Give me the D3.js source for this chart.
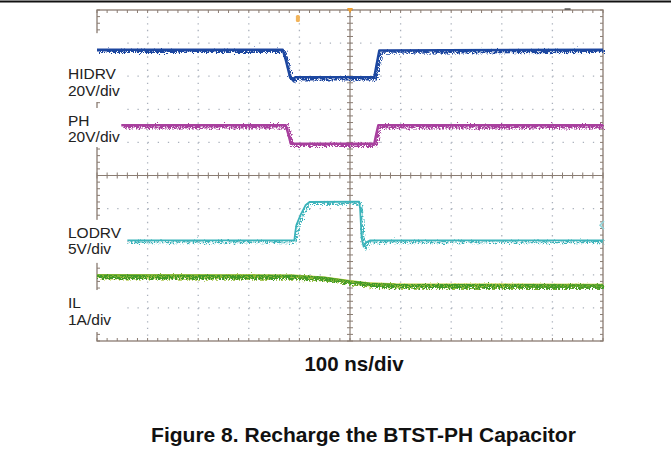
<!DOCTYPE html>
<html>
<head>
<meta charset="utf-8">
<script src="https://cdn.jsdelivr.net/npm/d3@7"></script>
<style>
  body { margin: 0; background: #fff; }
  svg { display: block; }
  .lbl { font-family: "Liberation Sans", Arial, sans-serif; font-size: 15.5px; fill: #222; }
  .cap { font-family: "Liberation Sans", Arial, sans-serif; font-weight: bold; fill: #111; }
</style>
</head>
<body>
<div id="scope"></div>
<script>
//time axis in ns (100 ns/div, 10 divisions), vertical axis in divisions
var timeTicks = [-500, -400, -300, -200, -100, 0, 100, 200, 300, 400, 500];
var divTicks = [-5, -4, -3, -2, -1, 0, 1, 2, 3, 4, 5];

//trace breakpoints: [time ns, divisions]
var hidrv = [[-500, 3.8], [-133, 3.8], [-127, 3.5], [-118, 2.95], [-114, 2.9], [-108, 2.97], [48, 2.97], [52, 3.3], [58, 3.78], [500, 3.8]];
var ph = [[-452, 1.52], [-127, 1.52], [-121, 1.2], [-117, 0.96], [48, 0.96], [52, 1.25], [56, 1.52], [500, 1.52]];
var lodrv = [[-440, -1.96], [-110, -1.96], [-108, -1.7], [-106, -1.5], [-98, -1.2], [-88, -0.9], [-80, -0.8], [18, -0.79], [20, -1.0], [23, -1.9], [27, -2.15], [32, -2.02], [40, -1.96], [500, -1.96]];
var il = [[-500, -3.03], [-110, -3.04], [-50, -3.1], [0, -3.21], [40, -3.28], [90, -3.31], [500, -3.32]];

var traceNames = ["HIDRV", "PH", "LODRV", "IL"];
var traceScales = ["20V/div", "20V/div", "5V/div", "1A/div"];
var traceColors = ["#1f47a0", "#a8409e", "#3ab3ba", "#3f9a2a"];

var svgWidth = 671, svgHeight = 460;
var grid = {left: 97, right: 603, top: 10, bottom: 341};

var xScale = d3.scaleLinear().domain([-500, 500]).range([grid.left, grid.right]);
var yScale = d3.scaleLinear().domain([-5, 5]).range([grid.bottom, grid.top]);

var svg = d3.select("#scope").append("svg")
    .attr("width", svgWidth)
    .attr("height", svgHeight);

//noise filter so the traces look like a real capture
var defs = svg.append("defs");
var filt = defs.append("filter").attr("id", "noisy")
    .attr("filterUnits", "userSpaceOnUse")
    .attr("x", 0).attr("y", 0).attr("width", svgWidth).attr("height", svgHeight);
filt.append("feTurbulence").attr("type", "turbulence")
    .attr("baseFrequency", "1.3 0.9").attr("numOctaves", 2).attr("seed", 7).attr("result", "turb");
filt.append("feDisplacementMap").attr("in", "SourceGraphic").attr("in2", "turb")
    .attr("scale", 7).attr("xChannelSelector", "R").attr("yChannelSelector", "G").attr("result", "disp");
var merge = filt.append("feMerge");
merge.append("feMergeNode").attr("in", "SourceGraphic");
merge.append("feMergeNode").attr("in", "disp");

//top rule of the page
svg.append("rect").attr("x", 0).attr("y", 0.5).attr("width", svgWidth).attr("height", 2).attr("fill", "#111");

//dotted graticule
var gridG = svg.append("g");
gridG.selectAll("line.v").data(timeTicks.slice(1, -1).filter(d => d !== 0))
    .enter().append("line")
    .attr("x1", d => xScale(d)).attr("x2", d => xScale(d))
    .attr("y1", grid.top).attr("y2", grid.bottom)
    .attr("stroke", "#aab1bc").attr("stroke-width", 1.3)
    .attr("stroke-dasharray", "1.3,5.32");
gridG.selectAll("line.h").data(divTicks.slice(1, -1).filter(d => d !== 0))
    .enter().append("line")
    .attr("x1", grid.left).attr("x2", grid.right)
    .attr("y1", d => yScale(d)).attr("y2", d => yScale(d))
    .attr("stroke", "#aab1bc").attr("stroke-width", 1.3)
    .attr("stroke-dasharray", "1.3,8.82");

//frame and centre axes
var frameCol = "#8a7c72";
svg.append("rect")
    .attr("x", grid.left).attr("y", grid.top)
    .attr("width", grid.right - grid.left).attr("height", grid.bottom - grid.top)
    .attr("fill", "none").attr("stroke", frameCol).attr("stroke-width", 1.3);
svg.append("line").attr("x1", grid.left).attr("x2", grid.right)
    .attr("y1", yScale(0)).attr("y2", yScale(0)).attr("stroke", frameCol).attr("stroke-width", 1.2);
svg.append("line").attr("x1", xScale(0)).attr("x2", xScale(0))
    .attr("y1", grid.top).attr("y2", grid.bottom).attr("stroke", frameCol).attr("stroke-width", 1.2);

//minor ticks, 5 per division
var minorT = d3.range(-500, 501, 20);
var minorV = d3.range(-5, 5.001, 0.2);
var tickG = svg.append("g").attr("stroke", frameCol).attr("stroke-width", 1);
tickG.selectAll("line.ct").data(minorT).enter().append("line")
    .attr("x1", d => xScale(d)).attr("x2", d => xScale(d))
    .attr("y1", yScale(0) - 3).attr("y2", yScale(0) + 3);
tickG.selectAll("line.tt").data(minorT).enter().append("line")
    .attr("x1", d => xScale(d)).attr("x2", d => xScale(d))
    .attr("y1", grid.top).attr("y2", grid.top + 3);
tickG.selectAll("line.bt").data(minorT).enter().append("line")
    .attr("x1", d => xScale(d)).attr("x2", d => xScale(d))
    .attr("y1", grid.bottom - 3).attr("y2", grid.bottom);
tickG.selectAll("line.cv").data(minorV).enter().append("line")
    .attr("x1", xScale(0) - 3).attr("x2", xScale(0) + 3)
    .attr("y1", d => yScale(d)).attr("y2", d => yScale(d));
tickG.selectAll("line.lv").data(minorV).enter().append("line")
    .attr("x1", grid.left).attr("x2", grid.left + 3)
    .attr("y1", d => yScale(d)).attr("y2", d => yScale(d));
tickG.selectAll("line.rv").data(minorV).enter().append("line")
    .attr("x1", grid.right - 3).attr("x2", grid.right)
    .attr("y1", d => yScale(d)).attr("y2", d => yScale(d));

//channel labels sit on white boxes that hide the left edge of the screen
var labelTop = [4.3, 2.04, -1.34, -3.46];
var labelBottom = [2.22, 0.86, -2.64, -4.73];
var labG = svg.append("g");
labG.selectAll("rect").data(traceNames).enter().append("rect")
    .attr("x", 60)
    .attr("y", (d, i) => yScale(labelTop[i]))
    .attr("width", 64)
    .attr("height", (d, i) => yScale(labelBottom[i]) - yScale(labelTop[i]))
    .attr("fill", "#fff");
labG.selectAll("text.n").data(traceNames).enter().append("text")
    .attr("class", "lbl")
    .attr("x", 68)
    .attr("y", (d, i) => yScale(labelTop[i]) + [46, 18, 18, 18][i])
    .text(d => d);
labG.selectAll("text.s").data(traceScales).enter().append("text")
    .attr("class", "lbl")
    .attr("x", 68)
    .attr("y", (d, i) => yScale(labelTop[i]) + [63, 34, 34, 35][i])
    .text(d => d);

//traces
var line = d3.line().x(d => xScale(d[0])).y(d => yScale(d[1]));
var traces = [hidrv, ph, lodrv, il];
var traceG = svg.append("g").attr("filter", "url(#noisy)");
traceG.append("path").datum(il).attr("d", line)
    .attr("fill", "none").attr("stroke", "#b9c93a").attr("stroke-width", 3.4);
traceG.selectAll("path.tr").data(traces).enter().append("path")
    .attr("d", line)
    .attr("fill", "none")
    .attr("stroke", (d, i) => traceColors[i])
    .attr("stroke-width", (d, i) => i === 2 ? 1.8 : 2.5)
    .attr("stroke-linejoin", "round");

//trigger and reference markers
var trigT = 0, trigMarkT = -103;
svg.append("path")
    .attr("d", `M${xScale(trigT) - 3},${grid.top - 2} L${xScale(trigT) + 3},${grid.top - 2} L${xScale(trigT)},${grid.top + 3} Z`)
    .attr("fill", "#f0a030");
svg.append("rect").attr("x", xScale(trigMarkT) - 2).attr("y", 15).attr("width", 4).attr("height", 7)
    .attr("rx", 1.5).attr("fill", "#f2b45a");
svg.append("line").attr("x1", xScale(430) - 3).attr("x2", xScale(430) + 3)
    .attr("y1", grid.top - 1).attr("y2", grid.top - 1).attr("stroke", "#333").attr("stroke-width", 1.2);
svg.append("path")
    .attr("d", `M${grid.right + 1},${yScale(-1.5) - 4} L${grid.right - 3},${yScale(-1.5)} L${grid.right + 1},${yScale(-1.5) + 4}`)
    .attr("fill", "none").attr("stroke", "#8fd3d8").attr("stroke-width", 1.5);

//captions
svg.append("text").attr("class", "cap")
    .attr("x", 354).attr("y", 371)
    .attr("text-anchor", "middle").style("font-size", "20.5px")
    .text("100 ns/div");
svg.append("text").attr("class", "cap")
    .attr("x", 363.5).attr("y", 442)
    .attr("text-anchor", "middle").style("font-size", "21px")
    .text("Figure 8. Recharge the BTST-PH Capacitor");
</script>
</body>
</html>
